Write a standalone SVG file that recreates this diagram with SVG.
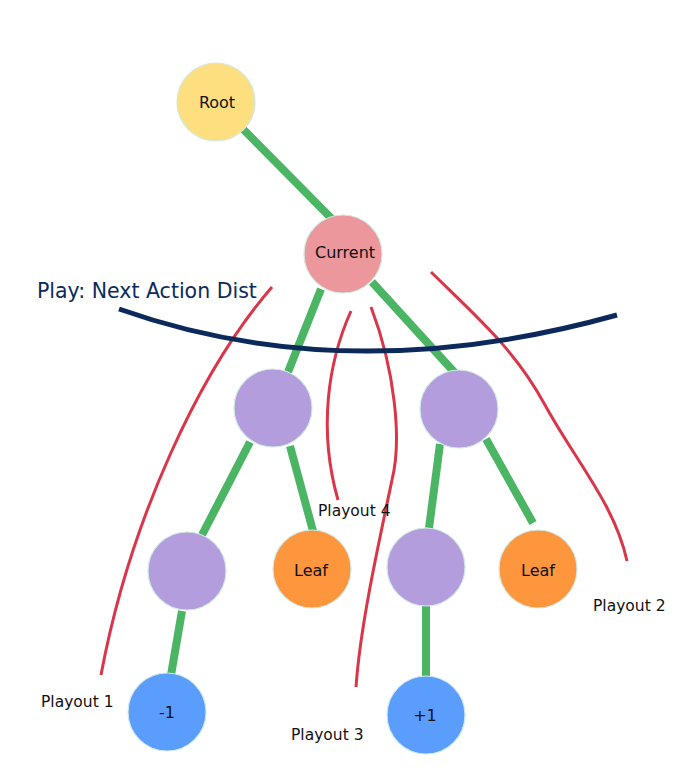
<svg xmlns="http://www.w3.org/2000/svg" width="690" height="773" viewBox="0 0 690 773">
<style>
.n{stroke:#cfe9e3;stroke-width:1.2}
.t{font-family:"DejaVu Sans",Verdana,sans-serif;font-size:16px;fill:#111;text-anchor:middle;dominant-baseline:central}
.e{stroke:#4bb564;stroke-width:8;fill:none}
.r{stroke:#d9364a;stroke-width:3;fill:none}
.l{font-family:"DejaVu Sans",Verdana,sans-serif;font-size:15.5px;fill:#111}
</style>
<rect width="690" height="773" fill="#fff"/>
<g id="connectors">
<line class="e" x1="242" y1="128" x2="332" y2="219"/>
<line class="e" x1="321" y1="289" x2="288" y2="372"/>
<line class="e" x1="372" y1="282" x2="455" y2="373"/>
<line class="e" x1="250" y1="442" x2="202" y2="535"/>
<line class="e" x1="290" y1="446" x2="313" y2="531"/>
<line class="e" x1="440" y1="444" x2="429" y2="528"/>
<line class="e" x1="486" y1="439" x2="533" y2="523"/>
<line class="e" x1="182" y1="611" x2="171" y2="675"/>
<line class="e" x1="426" y1="606" x2="426" y2="676"/>
</g>
<g id="playouts">
<path class="r" d="M272,287 C 200,370 130,520 101,675"/>
<path class="r" d="M351,311 C 328,362 318,430 338,500"/>
<path class="r" d="M371,307 C 395,370 402,440 392,480 C 375,560 360,630 356,687"/>
<path class="r" d="M431,272 C 480,320 515,350 545,405 C 575,460 615,505 627,561"/>
</g>
<g id="play-arc">
<path d="M119,309 Q 348,390 617,315" fill="none" stroke="#0b2a5b" stroke-width="5"/>
<text x="37" y="298" font-family="'DejaVu Sans',Verdana,sans-serif" font-size="20.5" fill="#0b2a5b">Play: Next Action Dist</text>
</g>
<g id="root"><circle class="n" cx="216" cy="102" r="39" fill="#fedf80"/><text class="t" x="217" y="102" font-size="15">Root</text></g>
<g id="current"><circle class="n" cx="343" cy="254" r="39" fill="#eb979c"/><text class="t" x="345" y="252">Current</text></g>
<g id="p1"><circle class="n" cx="273" cy="408" r="39" fill="#b39ddc"/></g>
<g id="p2"><circle class="n" cx="459" cy="409" r="39" fill="#b39ddc"/></g>
<g id="p3"><circle class="n" cx="187" cy="571" r="39" fill="#b39ddc"/></g>
<g id="leaf1"><circle class="n" cx="312" cy="569" r="39" fill="#fd963c"/><text class="t" x="311" y="570">Leaf</text></g>
<g id="p4"><circle class="n" cx="426" cy="567" r="39" fill="#b39ddc"/></g>
<g id="leaf2"><circle class="n" cx="538" cy="569" r="39" fill="#fd963c"/><text class="t" x="538" y="570">Leaf</text></g>
<g id="minus1"><circle class="n" cx="167" cy="712" r="39" fill="#5a9dfc"/><text class="t" x="167" y="712">-1</text></g>
<g id="plus1"><circle class="n" cx="426" cy="715" r="39" fill="#5a9dfc"/><text class="t" x="425" y="715">+1</text></g>
<g id="labels">
<text class="l" x="41" y="707">Playout 1</text>
<text class="l" x="593" y="611">Playout 2</text>
<text class="l" x="291" y="740">Playout 3</text>
<text class="l" x="318" y="516" font-size="13">Playout 4</text>
</g>
</svg>
